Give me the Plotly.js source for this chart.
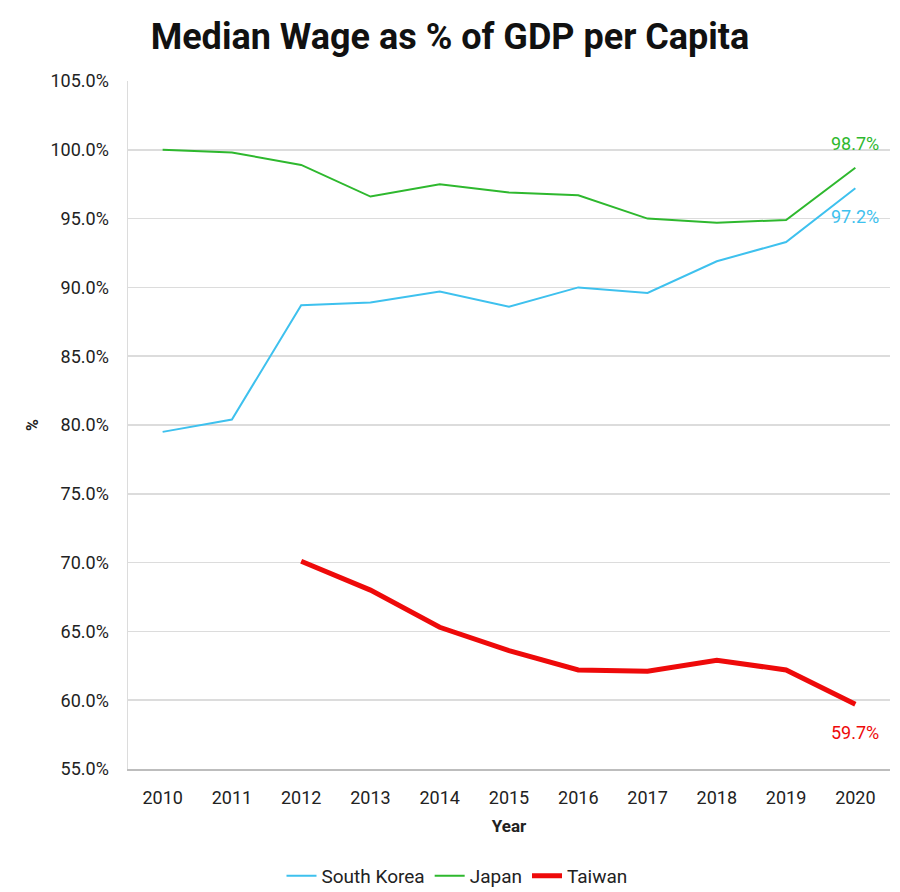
<!DOCTYPE html>
<html>
<head>
<meta charset="utf-8">
<script src="https://cdn.plot.ly/plotly-3.0.1.min.js"></script>
<style>html,body{margin:0;padding:0;background:#fff;}#chart{width:900px;height:892px;}</style>
</head>
<body>
<div id="chart"></div>
<script>
const years = ['2010','2011','2012','2013','2014','2015','2016','2017','2018','2019','2020'];
const southKorea = [79.5, 80.4, 88.7, 88.9, 89.7, 88.6, 90.0, 89.6, 91.9, 93.3, 97.2];
const japan = [100.0, 99.8, 98.9, 96.6, 97.5, 96.9, 96.7, 95.0, 94.7, 94.9, 98.7];
const taiwanYears = ['2012','2013','2014','2015','2016','2017','2018','2019','2020'];
const taiwan = [70.1, 68.0, 65.3, 63.6, 62.2, 62.1, 62.9, 62.2, 59.7];
const yTicks = [55, 60, 65, 70, 75, 80, 85, 90, 95, 100, 105];

const cSK = '#3ec1ee', cJP = '#2eb82e', cTW = '#ee0a0a';

const traces = [
  {x: years, y: southKorea, name: 'South Korea', type: 'scatter', mode: 'lines', line: {color: cSK, width: 2}},
  {x: years, y: japan, name: 'Japan', type: 'scatter', mode: 'lines', line: {color: cJP, width: 2}},
  {x: taiwanYears, y: taiwan, name: 'Taiwan', type: 'scatter', mode: 'lines', line: {color: cTW, width: 5}}
];

const lastLabel = (xs, ys, color, yshift) => ({
  x: years.indexOf(xs[xs.length-1]), y: ys[ys.length-1], xref: 'x', yref: 'y',
  text: ys[ys.length-1].toFixed(1) + '%', showarrow: false,
  font: {family: 'Roboto, sans-serif', size: 18, color: color},
  yshift: yshift, xshift: 0
});

const layout = {
  width: 900, height: 892,
  margin: {l: 128, r: 10, t: 81, b: 123},
  paper_bgcolor: '#fff', plot_bgcolor: '#fff',
  title: {text: '<b>Median Wage as % of GDP per Capita</b>', x: 0.5, xanchor: 'center',
          yref: 'container', y: 1 - 36/892, yanchor: 'middle',
          font: {family: 'Roboto, sans-serif', size: 36, color: '#111'}},
  font: {family: 'Roboto, sans-serif', size: 17, color: '#222'},
  xaxis: {
    type: 'category', range: [-0.5, 10.5], showgrid: false,
    showline: true, linecolor: '#bdbdbd', linewidth: 1.5,
    ticks: '', tickfont: {size: 18, color: '#222'}, ticklabelstandoff: 12,
    title: {text: '<b>Year</b>', font: {size: 17, color: '#222'}, standoff: 13}
  },
  yaxis: {
    range: [55, 105], tickvals: yTicks, ticktext: yTicks.map(v => v.toFixed(1) + '%'),
    showgrid: true, gridcolor: '#dcdcdc', gridwidth: 1.5, zeroline: false,
    showline: true, linecolor: '#dcdcdc', linewidth: 1.5,
    ticks: '', tickfont: {size: 18, color: '#222'}, ticklabelstandoff: 14,
    title: {text: '<b>%</b>', font: {size: 16, color: '#222'}, standoff: 8}
  },
  legend: {orientation: 'h', x: 457/900, xref: 'container', xanchor: 'center',
           yref: 'container', y: 16/892, yanchor: 'middle',
           font: {size: 19, color: '#222'}, tracegroupgap: 0},
  annotations: [
    lastLabel(years, japan, cJP, 24),
    lastLabel(years, southKorea, cSK, -28),
    lastLabel(taiwanYears, taiwan, cTW, -28)
  ],
  showlegend: true
};

Plotly.newPlot('chart', traces, layout, {displayModeBar: false, staticPlot: true});
</script>
</body>
</html>
